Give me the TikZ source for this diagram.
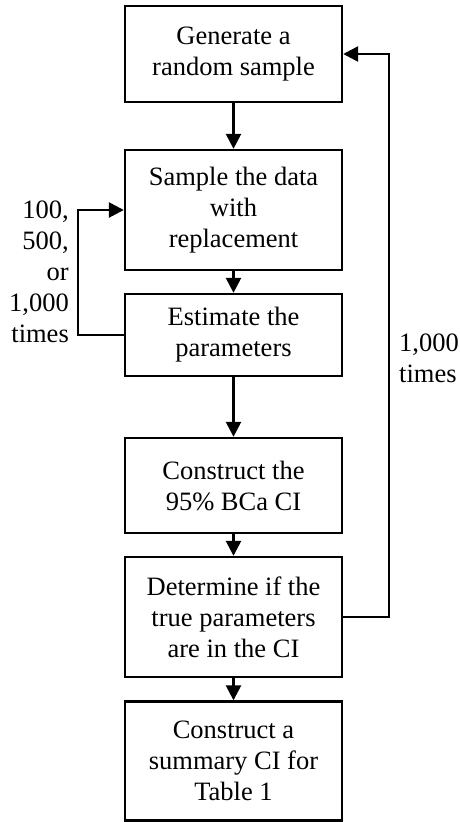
\documentclass[tikz,border=0pt]{standalone}
\usepackage{fontspec}
\setmainfont{Liberation Serif}
\usetikzlibrary{arrows.meta}
\begin{document}
\begin{tikzpicture}[x=1pt,y=-1pt,
  box/.style={draw,line width=2.4pt,minimum width=217pt,align=center,inner sep=0pt,
    font=\fontsize{26.5pt}{31pt}\selectfont},
  lbl/.style={inner sep=0pt,font=\fontsize{26.5pt}{31pt}\selectfont},
  conn/.style={line width=2.6pt,-{Triangle[length=15pt,width=15pt]}}]
\useasboundingbox (0,0) rectangle (460,822);
\node[box,minimum height=96pt]  (b1) at (233.5,54) {Generate a\\random sample};
\node[box,minimum height=120pt] (b2) at (233.5,210) {Sample the data\\with\\replacement};
\node[box,minimum height=82pt]  (b3) at (233.5,335) {Estimate the\\parameters};
\node[box,minimum height=95pt]  (b4) at (233.5,485.5) {Construct the\\95\% BCa CI};
\node[box,minimum height=120pt] (b5) at (233.5,617) {Determine if the\\true parameters\\are in the CI};
\node[box,minimum height=119pt] (b6) at (233.5,761) {Construct a\\summary CI for\\Table 1};
\draw[conn] (b1) -- (b2);
\draw[conn] (b2) -- (b3);
\draw[conn] (b3) -- (b4);
\draw[conn] (b4) -- (b5);
\draw[conn] (b5) -- (b6);
\coordinate (l1) at (78,335);
\coordinate (l2) at (78,210);
\draw[conn] (b3.west) -- (l1) -- (l2) -- (b2.west);
\coordinate (r1) at (389,617);
\coordinate (r2) at (389,54);
\draw[conn] (b5.east) -- (r1) -- (r2) -- (b1.east);
\node[lbl,align=right,anchor=east] (ll) at (69,271.5) {100,\\500,\\or\\1,000\\times};
\node[lbl,align=left,anchor=west] (rl) at (399,358) {1,000\\times};
\end{tikzpicture}
\end{document}
